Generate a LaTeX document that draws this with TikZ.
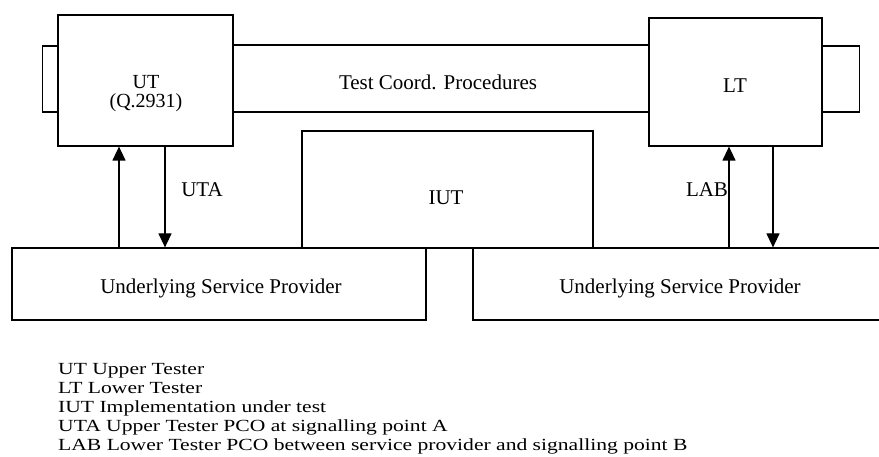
\documentclass[tikz,border=0pt]{standalone}
\usepackage{fontspec}
\setmainfont{Liberation Serif}
\newfontfamily\legendfont[FakeStretch=1.27]{Liberation Serif}
\usetikzlibrary{arrows.meta}
\begin{document}
\begin{tikzpicture}[x=1pt,y=-1pt,
  box/.style={draw, line width=1.2pt, inner sep=0pt},
  lbl/.style={font=\fontsize{21}{18}\selectfont, inner sep=0pt, anchor=base},
  slbl/.style={font=\fontsize{20}{18}\selectfont, inner sep=0pt, anchor=base},
  leg/.style={font=\legendfont\fontsize{17}{19}\selectfont, inner sep=0pt, anchor=base west},
  line/.style={line width=1.2pt},
  arr/.style={line width=1.2pt, -{Triangle[width=13pt,length=14pt]}}]
\useasboundingbox (0,0) rectangle (879,457);
% boxes
\node[box, minimum width=175pt, minimum height=131pt] (UT) at (145.5,80.5) {};
\node[box, minimum width=173pt, minimum height=128pt] (LT) at (735.5,82) {};
\node[box, minimum width=291pt, minimum height=117pt] (IUT) at (447.5,189.5) {};
\node[box, minimum width=414pt, minimum height=72pt] (USP1) at (219,284) {};
\node[box, minimum width=414pt, minimum height=72pt] (USP2) at (680,284) {};
% helper coordinates
\coordinate (bandtop) at (0,45);
\coordinate (bandbot) at (0,112);
\coordinate (tabtop) at (0,46);
\coordinate (xa) at (119,0);
\coordinate (xb) at (165,0);
\coordinate (xc) at (729,0);
\coordinate (xd) at (773,0);
% band
\draw[line] (UT.east |- bandtop) -- (LT.west |- bandtop);
\draw[line] (UT.east |- bandbot) -- (LT.west |- bandbot);
% tabs
\draw[line] (UT.west |- tabtop) -- ++(-15,0) -- ++(0,66) -- (UT.west |- bandbot);
\draw[line] (LT.east |- tabtop) -- ++(37,0) -- ++(0,66) -- (LT.east |- bandbot);
% common top line
\draw[line] (USP1.north east) -- (USP2.north west);
% arrows
\draw[arr] (USP1.north -| xa) -- (UT.south -| xa);
\draw[arr] (UT.south -| xb) -- (USP1.north -| xb);
\draw[arr] (USP2.north -| xc) -- (LT.south -| xc);
\draw[arr] (LT.south -| xd) -- (USP2.north -| xd);
% labels
\node[slbl] (UTt) at (146,89) {UT};
\node[slbl] (UTq) at (146,108) {(Q.2931)};
\node[lbl] (TC) at (438,90) {Test Coord. Procedures};
\node[lbl] (LTt) at (735,93) {LT};
\node[lbl] (IUTt) at (446,205) {IUT};
\node[lbl] (UTA) at (202,197) {UTA};
\node[lbl] (LAB) at (707,197) {LAB};
\node[lbl] (USP1t) at (221,294) {Underlying Service Provider};
\node[lbl] (USP2t) at (680,294) {Underlying Service Provider};
% legend
\node[leg] (L1) at (58,374) {UT Upper Tester};
\node[leg] (L2) at (58,393) {LT Lower Tester};
\node[leg] (L3) at (58,412) {IUT Implementation under test};
\node[leg] (L4) at (58,431) {UTA Upper Tester PCO at signalling point A};
\node[leg] (L5) at (58,450) {LAB Lower Tester PCO between service provider and signalling point B};
\end{tikzpicture}
\end{document}
